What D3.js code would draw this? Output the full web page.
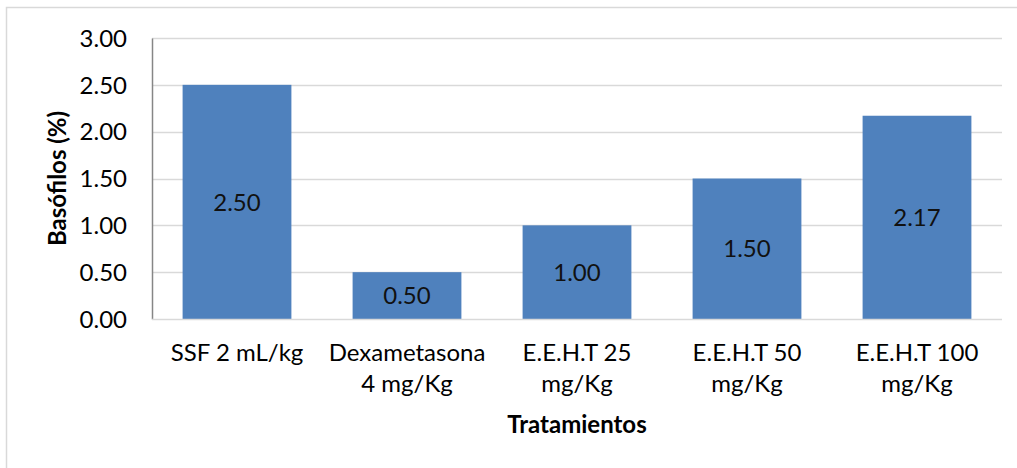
<!DOCTYPE html>
<html>
<head>
<meta charset="utf-8">
<script src="https://cdn.jsdelivr.net/npm/d3@7"></script>
<style>
  html, body { margin: 0; padding: 0; background: #fff; }
  svg { display: block; font-family: Lato, "Open Sans", sans-serif; }
</style>
</head>
<body>
<svg id="chart" width="1017" height="468"></svg>
<script>
// Treatment groups (each label split across lines) and basophil percentages
const categories = [
  ["SSF 2 mL/kg"],
  ["Dexametasona", "4 mg/Kg"],
  ["E.E.H.T 25", "mg/Kg"],
  ["E.E.H.T 50", "mg/Kg"],
  ["E.E.H.T 100", "mg/Kg"]
];
const values = [2.50, 0.50, 1.00, 1.50, 2.17];
const yTicks = [0, 0.5, 1.0, 1.5, 2.0, 2.5, 3.0];
const yTitle = "Basófilos (%)";
const xTitle = "Tratamientos";

const svg = d3.select("#chart");
const margin = { left: 152, right: 15, top: 38, bottom: 149 };
const W = 1017, H = 468;
const innerW = W - margin.left - margin.right;
const innerH = H - margin.top - margin.bottom;

// Outer chart frame
svg.append("rect")
  .attr("x", 6.5).attr("y", 7.5)
  .attr("width", W + 10).attr("height", H + 10)
  .attr("fill", "#fff").attr("stroke", "#d9d9d9").attr("stroke-width", 1.5);

const g = svg.append("g").attr("transform", `translate(${margin.left},${margin.top})`);

const x = d3.scaleBand()
  .domain(d3.range(categories.length))
  .range([0, innerW])
  .paddingInner(0.36)
  .paddingOuter(0.18);

const y = d3.scaleLinear().domain([0, 3]).range([innerH, 0]);

// Horizontal gridlines
g.append("g")
  .selectAll("line")
  .data(yTicks.filter(t => t > 0))
  .join("line")
  .attr("x1", 0).attr("x2", innerW)
  .attr("y1", d => Math.round(y(d)) + 0.5).attr("y2", d => Math.round(y(d)) + 0.5)
  .attr("stroke", "#d9d9d9").attr("stroke-width", 1.5);

// Bars
g.append("g")
  .selectAll("rect")
  .data(values)
  .join("rect")
  .attr("x", (d, i) => x(i))
  .attr("y", d => y(d))
  .attr("width", x.bandwidth())
  .attr("height", d => innerH - y(d))
  .attr("fill", "#4f81bd");

// Value labels centred inside each bar
g.append("g")
  .selectAll("text")
  .data(values)
  .join("text")
  .attr("x", (d, i) => x(i) + x.bandwidth() / 2)
  .attr("y", d => (y(d) + innerH) / 2)
  .attr("dy", "0.36em")
  .attr("text-anchor", "middle")
  .attr("font-size", 24)
  .attr("fill", "#111")
  .text(d => d.toFixed(2));

// Y axis
const yAxis = g.append("g")
  .call(d3.axisLeft(y).tickValues(yTicks).tickSize(0).tickPadding(25).tickFormat(d3.format(".2f")));
yAxis.select(".domain").attr("stroke", "#868686").attr("stroke-width", 1.5);
yAxis.selectAll("text").attr("font-size", 24).attr("fill", "#000")
  .attr("font-family", "Lato, 'Open Sans', sans-serif").attr("dy", "0.34em");

// X axis baseline
g.append("line")
  .attr("x1", 0).attr("x2", innerW)
  .attr("y1", innerH + 0.5).attr("y2", innerH + 0.5)
  .attr("stroke", "#d9d9d9").attr("stroke-width", 1.5);

// Category labels (multi-line)
const catG = g.append("g").selectAll("text")
  .data(categories)
  .join("text")
  .attr("text-anchor", "middle")
  .attr("font-size", 24)
  .attr("fill", "#000")
  .attr("transform", (d, i) => `translate(${x(i) + x.bandwidth() / 2},${innerH + 42})`);
catG.selectAll("tspan")
  .data(d => d)
  .join("tspan")
  .attr("x", 0)
  .attr("y", (d, i) => i * 31)
  .text(d => d);

// Axis titles
svg.append("text")
  .attr("x", margin.left + innerW / 2)
  .attr("y", 433)
  .attr("text-anchor", "middle")
  .attr("font-size", 24)
  .attr("font-weight", "bold")
  .attr("fill", "#000")
  .text(xTitle);

svg.append("text")
  .attr("transform", `translate(66,${margin.top + innerH / 2}) rotate(-90)`)
  .attr("text-anchor", "middle")
  .attr("font-size", 24)
  .attr("font-weight", "bold")
  .attr("fill", "#000")
  .text(yTitle);
</script>
</body>
</html>
